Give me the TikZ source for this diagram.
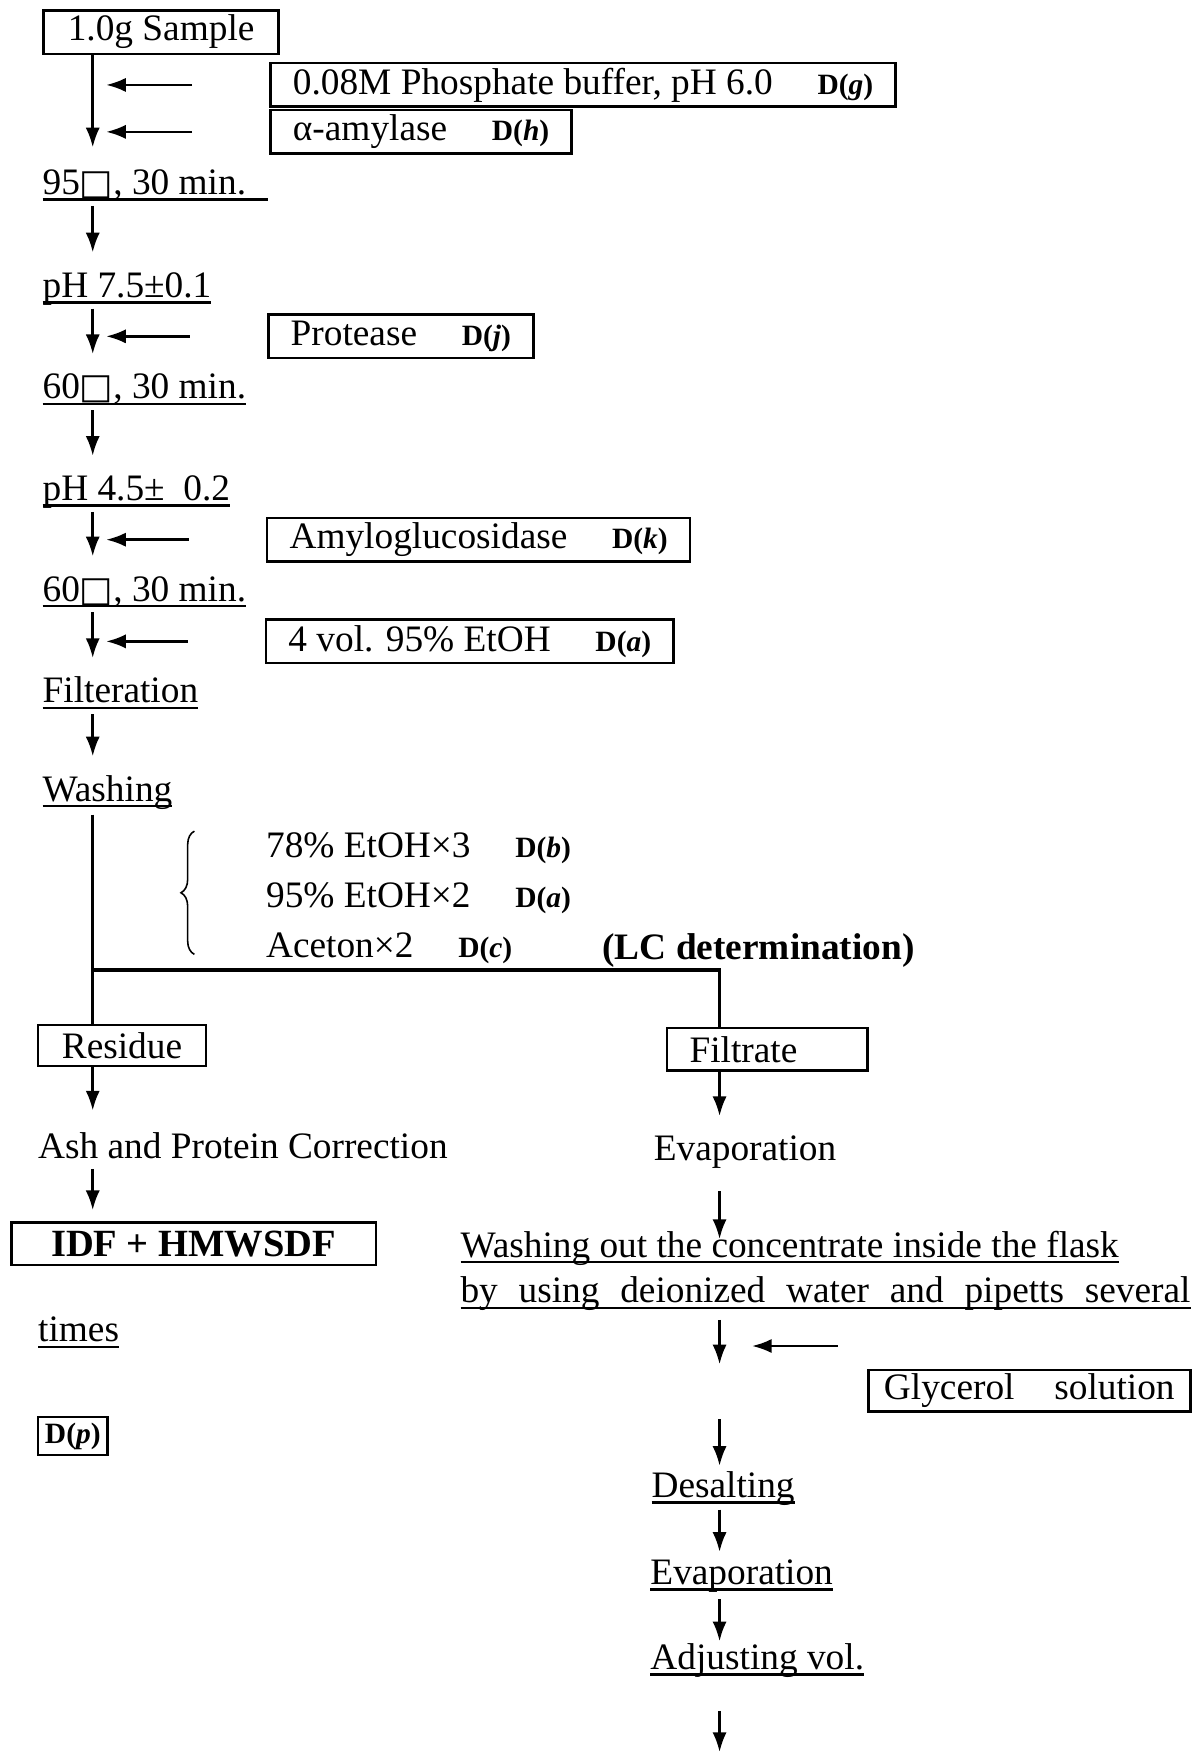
\documentclass[tikz,border=0pt]{standalone}
\usepackage{fontspec}
\setmainfont{Liberation Serif}
\newfontfamily\symfont{DejaVu Sans}
\usetikzlibrary{calc, arrows.meta}
\usetikzlibrary{decorations.pathreplacing}

\begin{document}
\begin{tikzpicture}[
    x=0.01cm, y=-0.01cm,
    line width = 0.65pt,
    >={Latex[length=5pt, width=3.6pt]},
    every node/.style={font=\fontsize{9.5}{12}\selectfont},
    box/.style={draw, inner xsep=0.2cm, inner ysep=0pt, minimum height=0.39cm},
    stage/.style={anchor=base west, inner sep=0pt, text height=0.24cm, text depth=0.06cm},
    flow/.style={->, shorten <=0.03cm, shorten >=0.15cm},
    feed/.style={->, shorten <=0.69cm, shorten >=0.12cm}
    ]

    % Determines the boundries
    \path [use as bounding box] (0,0) rectangle (1069,1568);

    \def\degbox{{\fontsize{9}{9}\selectfont\symfont □}}
    \def\dref#1{{\fontsize{7.5}{9}\selectfont\bfseries D(\textit{#1})}}
    \def\ul#1{\setbox0=\hbox{#1}\rlap{\rule[-1.6pt]{\wd0}{0.65pt}}\box0}

    \coordinate (trunk)  at (83,0);
    \coordinate (trunkR) at (644,0);

    % Sample and the left hand steps
    \node (sample) [box, anchor=north west, minimum width=2.10cm] at (38,8) {1.0g Sample};

    \foreach \n/\y/\txt in {
        t95/174/{95\degbox, 30 min.\hspace*{0.2cm}},
        ph75/266/{pH 7.5±0.1},
        t60a/357/{60\degbox, 30 min.},
        ph45/448/{pH 4.5±\ \ 0.2},
        t60b/538/{60\degbox, 30 min.},
        filteration/629/{Filteration},
        wash/717/{Washing}}{
        \node (\n) [stage] at (37,\y) {\ul{\txt}};
    }

    \draw[flow, shorten <=0pt, shorten >=0.17cm] (sample.south -| trunk) -- (t95.north -| trunk);
    \foreach \a/\b in {t95/ph75, ph75/t60a, t60a/ph45, ph45/t60b, t60b/filteration, filteration/wash}
        \draw[flow] (\a.south -| trunk) -- (\b.north -| trunk);

    % Reagents added from the side
    \foreach \n/\x/\y/\txt in {
        pb/241/76/{0.08M Phosphate buffer, pH 6.0\hspace{0.4cm}\dref{g}},
        amy/241/118/{α-amylase\hspace{0.4cm}\dref{h}},
        prot/239/301/{Protease\hspace{0.4cm}\dref{j}},
        amg/238/483/{Amyloglucosidase\hspace{0.4cm}\dref{k}},
        etoh/237/574/{4 vol. 95\% EtOH\hspace{0.4cm}\dref{a}}}{
        \node (\n) [box, anchor=west] at (\x,\y) {\txt};
        \draw[feed] (\n.west) -- (\n.west -| trunk);
    }

    % Washing solvents
    \node (w1) [stage] at (237,767) {78\% EtOH×3\hspace{0.4cm}\dref{b}};
    \node (w2) [stage] at (237,812) {95\% EtOH×2\hspace{0.4cm}\dref{a}};
    \node (w3) [stage] at (237,857) {Aceton×2\hspace{0.4cm}\dref{c}};
    \node (lc) [stage] at (538,859) {\bfseries (LC determination)};
    \draw[line width=0.4pt, decorate, decoration={brace, amplitude=0.12cm}]
        ([xshift=-0.63cm, yshift=0.1cm]w3.south west) -- ([xshift=-0.63cm, yshift=-0.02cm]w1.north west);

    % Splitting into residue and filtrate
    \node (residue) [box, anchor=north west, minimum width=1.50cm, minimum height=0.37cm] at (33,916) {Residue};
    \node (filtrate) [box, anchor=north west, text width=1.39cm, align=left, minimum height=0.38cm] at (596,919) {Filtrate};

    \coordinate (split) at (83,868);
    \draw[shorten <=0.05cm] (wash.south -| trunk) -- (residue.north -| trunk);
    \draw[line width=0.95pt] (split) -| (filtrate.north -| trunkR);

    % Residue branch
    \node (ash) [stage] at (33,1037) {Ash and Protein Correction};
    \node (idf) [box, anchor=north west, minimum width=3.26cm, minimum height=0.38cm,
                 font=\fontsize{9.8}{12}\selectfont\bfseries] at (9,1093) {IDF + HMWSDF};
    \node (times) [stage] at (33,1201) {\ul{times}};
    \node (dp) [box, anchor=north west, inner xsep=1pt, minimum width=0.62cm, minimum height=0.34cm] at (33,1267) {\dref{p}};

    \draw[flow, shorten <=0pt, shorten >=0.18cm] (residue.south -| trunk) -- (ash.north -| trunk);
    \draw[flow, shorten <=0.02cm, shorten >=0.1cm] (ash.south -| trunk) -- (idf.north -| trunk);

    % Filtrate branch
    \node (evapA) [stage] at (584,1039) {Evaporation};
    \node (wo1) [stage] at (411,1125) {\ul{Washing out the concentrate inside the flask}};
    \node (wo2) [stage] at (411,1166) {\ul{\makebox[6.53cm][s]{by using deionized water and pipetts several}}};
    \node (glycerol) [box, anchor=north west, inner xsep=0.14cm, text width=2.6cm, minimum height=0.37cm] at (776,1225) {Glycerol\hfill solution};
    \coordinate (gap) at (644,1245);
    \node (desalt) [stage] at (582,1340) {\ul{Desalting}};
    \node (evapB) [stage] at (581,1418) {\ul{Evaporation}};
    \node (adjust) [stage] at (581,1494) {\ul{Adjusting vol.}};
    \coordinate (out) at (644,1568);

    \draw[flow, shorten <=0pt] (filtrate.south -| trunkR) -- (evapA.north -| trunkR);
    \draw[flow, shorten <=0.2cm, shorten >=-0.09cm] (evapA.south -| trunkR) -- (wo1.north -| trunkR);
    \draw[flow, shorten <=0.08cm, shorten >=0.24cm] (wo2.south -| trunkR) -- (gap);
    \draw[flow, shorten <=0.25cm, shorten >=0.03cm] (gap) -- (desalt.north -| trunkR);
    \draw[flow, shorten <=0.04cm, shorten >=0.04cm] (desalt.south -| trunkR) -- (evapB.north -| trunkR);
    \draw[flow, shorten <=0.06cm, shorten >=0pt] (evapB.south -| trunkR) -- (adjust.north -| trunkR);
    \draw[flow, shorten <=0.3cm, shorten >=0pt] (adjust.south -| trunkR) -- (out);
    \draw[feed, shorten <=0.26cm, shorten >=0.29cm] ([yshift=0.4cm]glycerol.west) -- ([yshift=0.4cm]glycerol.west -| trunkR);

\end{tikzpicture}
\end{document}
